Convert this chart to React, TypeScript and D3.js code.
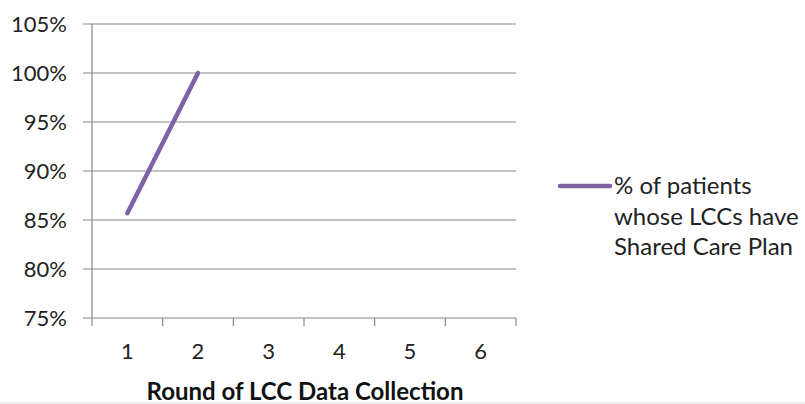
import React from "react";
import * as d3 from "d3";

const categories = ["1", "2", "3", "4", "5", "6"];
const seriesValues: (number | null)[] = [0.857, 1.0, null, null, null, null];
const yTicks = [0.75, 0.8, 0.85, 0.9, 0.95, 1.0, 1.05];
const seriesName = ["% of patients", "whose LCCs have", "Shared Care Plan"];
const xTitle = "Round of LCC Data Collection";

const W = 805;
const H = 404;
const FONT = "Lato, 'Open Sans', sans-serif";

export default function App() {
  const left = 92;
  const right = 516;
  const top = 24;
  const bottom = 318;
  const x = d3.scaleBand<string>().domain(categories).range([left, right]).padding(0);
  const y = d3.scaleLinear().domain([0.75, 1.05]).range([bottom, top]);
  const pts = categories
    .map((c, i) => ({ c, v: seriesValues[i] }))
    .filter((d) => d.v !== null) as { c: string; v: number }[];
  const line = d3
    .line<{ c: string; v: number }>()
    .x((d) => (x(d.c) as number) + x.bandwidth() / 2)
    .y((d) => y(d.v));
  const gridColor = "#878787";
  const purple = "#7E62A5";
  const fmt = d3.format(".0%");
  return (
    <div style={{ position: "fixed", left: 0, top: 0 }}>
      <svg width={W} height={H} style={{ display: "block", background: "#fff" }}>
        {yTicks.map((t) => (
          <g key={t}>
            <line x1={left - 9} x2={right} y1={y(t)} y2={y(t)} stroke={gridColor} strokeWidth={1.2} />
            <text x={67} y={y(t)} dy="0.36em" textAnchor="end" fontFamily={FONT} fontSize={22} fill="#222">
              {fmt(t)}
            </text>
          </g>
        ))}
        <line x1={left} x2={left} y1={top} y2={bottom} stroke={gridColor} strokeWidth={1.2} />
        {[...categories.map((c) => x(c) as number), right].map((px, i) => (
          <line key={i} x1={px} x2={px} y1={bottom} y2={bottom + 8} stroke={gridColor} strokeWidth={1.2} />
        ))}
        {categories.map((c) => (
          <text
            key={c}
            x={(x(c) as number) + x.bandwidth() / 2}
            y={bottom + 41}
            textAnchor="middle"
            fontFamily={FONT}
            fontSize={22}
            fill="#222"
          >
            {c}
          </text>
        ))}
        <text x={305} y={400} textAnchor="middle" fontFamily={FONT} fontSize={24} fontWeight="bold" fill="#111">
          {xTitle}
        </text>
        <path d={line(pts) || ""} fill="none" stroke={purple} strokeWidth={4.5} strokeLinecap="round" />
        <line x1={560} x2={610} y1={186} y2={186} stroke={purple} strokeWidth={4.5} strokeLinecap="round" />
        {seriesName.map((s, i) => (
          <text key={i} x={614} y={194 + i * 30.5} fontFamily={FONT} fontSize={24} fill="#222">
            {s}
          </text>
        ))}
        <line x1={0} x2={W} y1={403} y2={403} stroke="#ddd" strokeWidth={1} />
      </svg>
    </div>
  );
}
